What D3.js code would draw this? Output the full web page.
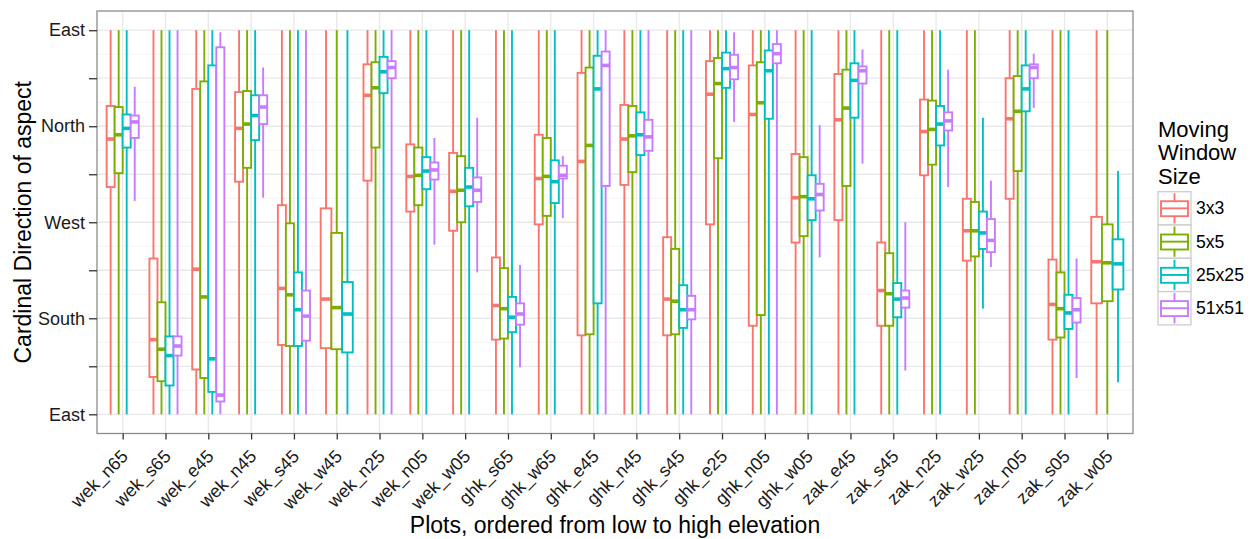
<!DOCTYPE html>
<html>
<head>
<meta charset="utf-8">
<script src="https://cdn.jsdelivr.net/npm/d3@7"></script>
<style>
  body { margin: 0; background: #fff; }
  svg { font-family: "Liberation Sans", Arial, sans-serif; }
</style>
</head>
<body>
<div id="chart"></div>
<script>
const plots = ["wek_n65", "wek_s65", "wek_e45", "wek_n45", "wek_s45", "wek_w45", "wek_n25", "wek_n05",
    "wek_w05", "ghk_s65", "ghk_w65", "ghk_e45", "ghk_n45", "ghk_s45", "ghk_e25", "ghk_n05", "ghk_w05",
    "zak_e45", "zak_s45", "zak_n25", "zak_w25", "zak_n05", "zak_s05", "zak_w05"];
const windowSizes = ["3x3", "5x5", "25x25", "51x51"];
const colors = ["#F8766D", "#7CAE00", "#00BFC4", "#C77CFF"];
const yBreaks = [0, 45, 90, 135, 180, 225, 270, 315, 360];
const yLabels = ["East", "", "South", "", "West", "", "North", "", "East"];

// [lower whisker, Q1, median, Q3, upper whisker] per plot, degrees counted from east
const stats3x3 = [
    [0, 213, 258, 289, 360], [0, 35, 70, 146, 360], [0, 42, 136, 305, 360], [0, 218, 268, 302, 360],
    [0, 65, 118, 196, 360], [0, 62, 108, 193, 360], [0, 219, 299, 328, 360], [0, 190, 223, 253, 360],
    [0, 172, 209, 245, 360], [0, 70, 102, 147, 360], [0, 178, 221, 262, 360], [0, 74, 237, 320, 360],
    [0, 215, 258, 290, 360], [0, 74, 108, 166, 360], [0, 178, 300, 331, 360], [0, 83, 281, 327, 360],
    [0, 161, 203, 244, 360], [0, 182, 276, 319, 360], [0, 83, 116, 161, 360], [0, 224, 265, 295, 360],
    [0, 144, 172, 202, 360], [0, 202, 277, 315, 360], [0, 70, 103, 145, 360], [0, 104, 143, 185, 360]
];
const stats5x5 = [
    [0, 226, 262, 288, 360], [0, 31, 61, 105, 360], [0, 34, 110, 312, 360], [0, 231, 272, 303, 360],
    [0, 64, 112, 179, 360], [0, 61, 100, 170, 360], [0, 250, 306, 330, 360], [0, 196, 224, 250, 360],
    [0, 180, 210, 242, 360], [0, 71, 99, 137, 360], [0, 186, 223, 259, 360], [0, 75, 252, 325, 360],
    [0, 227, 261, 289, 360], [0, 75, 106, 155, 360], [0, 240, 310, 334, 360], [0, 93, 292, 330, 360],
    [0, 167, 204, 241, 360], [0, 214, 287, 323, 360], [0, 83, 113, 151, 360], [0, 234, 267, 294, 360],
    [0, 148, 172, 199, 360], [0, 228, 284, 317, 360], [0, 72, 99, 133, 360], [0, 106, 142, 178, 360]
];
const stats25x25 = [
    [0, 250, 268, 281, 360], [0, 27, 55, 73, 360], [0, 21, 52, 327, 360], [0, 257, 280, 299, 360],
    [0, 64, 98, 133, 360], [0, 58, 94, 124, 360], [0, 301, 321, 335, 360], [0, 211, 228, 241, 360],
    [0, 195, 213, 231, 360], [0, 77, 91, 110, 360], [0, 198, 218, 238, 360], [0, 104, 305, 336, 360],
    [0, 243, 262, 283, 360], [0, 81, 98, 121, 360], [0, 306, 324, 339, 360], [0, 277, 322, 341, 360],
    [0, 182, 202, 224, 360], [0, 278, 313, 329, 360], [0, 91, 108, 123, 360], [0, 252, 272, 289, 360],
    [99, 155, 170, 190, 278], [0, 284, 305, 327, 360], [0, 80, 95, 112, 360], [30, 117, 141, 164, 228]
];
const stats51x51 = [
    [200, 259, 274, 280, 307], [0, 55, 64, 73, 360], [0, 12, 18, 344, 358], [203, 272, 288, 299, 325],
    [0, 69, 92, 116, 360], null, [0, 315, 325, 331, 360], [159, 220, 229, 236, 259],
    [133, 199, 210, 222, 278], [44, 84, 94, 104, 140], [184, 221, 224, 233, 242], [0, 214, 327, 340, 360],
    [0, 247, 260, 276, 360], [0, 89, 98, 111, 360], [274, 314, 325, 337, 358], [0, 329, 338, 347, 360],
    [147, 191, 206, 216, 271], [235, 310, 322, 326, 342], [41, 100, 109, 116, 180], [213, 266, 275, 283, 323],
    [138, 152, 163, 183, 219], [287, 315, 325, 328, 338], [34, 86, 98, 109, 146], null
];

class AspectBoxPlot {
    constructor(series) {
        this.series = series;
        this.margin = {top: 11, right: 119, bottom: 105.5, left: 97};
        this.width = 1252 - this.margin.left - this.margin.right;
        this.height = 539 - this.margin.top - this.margin.bottom;
        this.svg = null;
        this.scales = {};
    }

    initialize() {
        const root = d3.select("#chart").append("svg")
            .attr("width", 1252)
            .attr("height", 539);
        this.root = root;
        this.svg = root.append("g")
            .attr("transform", "translate(" + this.margin.left + "," + this.margin.top + ")");

        this.scales.x = d3.scalePoint()
            .domain(plots)
            .range([0, this.width])
            .padding(0.6);

        // ggplot style 5% expansion on each side
        this.scales.y = d3.scaleLinear()
            .domain([-18, 378])
            .range([this.height, 0]);
    }

    drawGrid() {
        const y = this.scales.y;
        const minor = yBreaks.slice(1).map(d => d - 22.5);
        this.svg.append("rect")
            .attr("width", this.width)
            .attr("height", this.height)
            .attr("fill", "#fff");
        this.svg.append("g").selectAll("line").data(minor).join("line")
            .attr("x1", 0).attr("x2", this.width)
            .attr("y1", d => y(d)).attr("y2", d => y(d))
            .attr("stroke", "#f2f2f2").attr("stroke-width", 0.9);
        this.svg.append("g").selectAll("line").data(yBreaks).join("line")
            .attr("x1", 0).attr("x2", this.width)
            .attr("y1", d => y(d)).attr("y2", d => y(d))
            .attr("stroke", "#e8e8e8").attr("stroke-width", 1.3);
        this.svg.append("g").selectAll("line").data(plots).join("line")
            .attr("x1", d => this.scales.x(d)).attr("x2", d => this.scales.x(d))
            .attr("y1", 0).attr("y2", this.height)
            .attr("stroke", "#e8e8e8").attr("stroke-width", 1.3);
    }

    drawBoxes() {
        const x = this.scales.x, y = this.scales.y;
        const step = x.step();
        const boxes = [];
        plots.forEach((p, i) => {
            const present = this.series.map((s, k) => ({k: k, v: s[i]})).filter(d => d.v !== null);
            const w = 0.75 * step / present.length;
            present.forEach((d, j) => {
                boxes.push({
                    cx: x(p) - 0.375 * step + (j + 0.5) * w,
                    w: w,
                    color: colors[d.k],
                    v: d.v
                });
            });
        });

        const g = this.svg.append("g").selectAll("g.box").data(boxes).join("g")
            .attr("class", "box");
        g.append("line")
            .attr("x1", d => d.cx).attr("x2", d => d.cx)
            .attr("y1", d => y(d.v[0])).attr("y2", d => y(d.v[1]));
        g.append("line")
            .attr("x1", d => d.cx).attr("x2", d => d.cx)
            .attr("y1", d => y(d.v[3])).attr("y2", d => y(d.v[4]));
        g.append("rect")
            .attr("x", d => d.cx - d.w / 2)
            .attr("width", d => d.w)
            .attr("y", d => y(d.v[3]))
            .attr("height", d => y(d.v[1]) - y(d.v[3]))
            .attr("fill", "#fff");
        g.append("line")
            .attr("class", "median")
            .attr("x1", d => d.cx - d.w / 2).attr("x2", d => d.cx + d.w / 2)
            .attr("y1", d => y(d.v[2])).attr("y2", d => y(d.v[2]))
            .attr("stroke-width", 3.6);
        g.selectAll("line, rect")
            .attr("stroke", d => d.color)
            .filter(":not(.median)")
            .attr("stroke-width", 1.9);
    }

    drawAxes() {
        this.svg.append("rect")
            .attr("width", this.width)
            .attr("height", this.height)
            .attr("fill", "none")
            .attr("stroke", "#8c8c8c")
            .attr("stroke-width", 1.3);

        const yAxis = this.svg.append("g")
            .call(d3.axisLeft(this.scales.y)
                .tickValues(yBreaks)
                .tickFormat((d, i) => yLabels[i])
                .tickSize(8)
                .tickPadding(4));
        yAxis.select(".domain").remove();

        const xAxis = this.svg.append("g")
            .attr("transform", "translate(0," + this.height + ")")
            .call(d3.axisBottom(this.scales.x).tickSize(6));
        xAxis.select(".domain").remove();
        xAxis.selectAll("text")
            .attr("y", 0)
            .attr("dy", null)
            .attr("transform", "translate(6,24) rotate(-45)")
            .style("text-anchor", "end");

        this.svg.selectAll(".tick line").attr("stroke", "#333").attr("stroke-width", 1.3);
        this.svg.selectAll(".tick text")
            .attr("fill", "#1a1a1a")
            .style("font-size", "18px");

        this.root.append("text")
            .attr("x", this.margin.left + this.width / 2)
            .attr("y", 533)
            .attr("text-anchor", "middle")
            .style("font-size", "23px")
            .attr("fill", "#000")
            .text("Plots, ordered from low to high elevation");

        this.root.append("text")
            .attr("transform", "translate(31," + (this.margin.top + this.height / 2) + ") rotate(-90)")
            .attr("text-anchor", "middle")
            .style("font-size", "23px")
            .attr("fill", "#000")
            .text("Cardinal Direction of aspect");
    }

    drawLegend() {
        const lg = this.root.append("g").attr("transform", "translate(1158,0)");
        ["Moving", "Window", "Size"].forEach((t, i) => {
            lg.append("text")
                .attr("x", 0)
                .attr("y", 136.5 + i * 23.5)
                .style("font-size", "22px")
                .text(t);
        });
        const keyH = 33.3;
        const key = lg.selectAll("g.key").data(windowSizes).join("g")
            .attr("class", "key")
            .attr("transform", (d, i) => "translate(0," + (191.7 + i * keyH) + ")");
        key.append("rect")
            .attr("width", 33).attr("height", keyH)
            .attr("fill", "#fff").attr("stroke", "#cccccc").attr("stroke-width", 1.3);
        key.append("line")
            .attr("x1", 16.5).attr("x2", 16.5).attr("y1", 1.5).attr("y2", keyH - 1.5)
            .attr("stroke", (d, i) => colors[i]).attr("stroke-width", 1.9);
        key.append("rect")
            .attr("x", 3).attr("width", 27).attr("y", 9.5).attr("height", 15)
            .attr("fill", "#fff")
            .attr("stroke", (d, i) => colors[i]).attr("stroke-width", 1.9);
        key.append("line")
            .attr("x1", 3).attr("x2", 30).attr("y1", keyH / 2).attr("y2", keyH / 2)
            .attr("stroke", (d, i) => colors[i]).attr("stroke-width", 1.9);
        key.append("text")
            .attr("x", 38)
            .attr("y", keyH / 2 + 6)
            .style("font-size", "17.6px")
            .text(d => d);
    }
}

const chart = new AspectBoxPlot([stats3x3, stats5x5, stats25x25, stats51x51]);
chart.initialize();
chart.drawGrid();
chart.drawBoxes();
chart.drawAxes();
chart.drawLegend();
</script>
</body>
</html>
